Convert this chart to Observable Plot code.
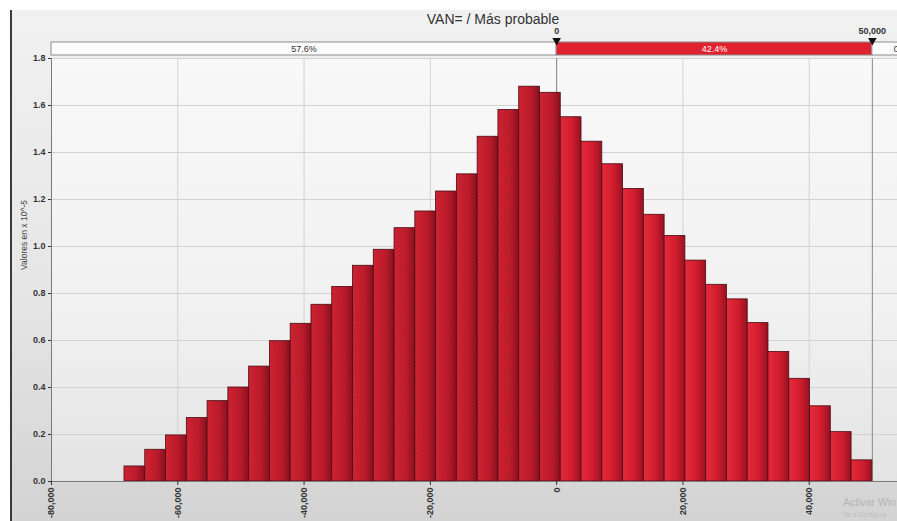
<!DOCTYPE html>
<html>
<head>
<meta charset="utf-8">
<script src="https://cdn.jsdelivr.net/npm/d3@7"></script>
<script src="https://cdn.jsdelivr.net/npm/@observablehq/plot@0.6"></script>
<style>
  html, body { margin: 0; padding: 0; background: #ffffff; overflow: hidden; }
  #wrap { position: relative; width: 897px; height: 521px; overflow: hidden;
          font-family: "Liberation Sans", Arial, sans-serif; }
  #bg { position: absolute; left: 10px; top: 10px; right: 0; bottom: 0;
        background: linear-gradient(#f1f1f1, #e6e6e6 55%, #d3d3d3);
        border-left: 2px solid #3a3a3a; }
  #main, #strip, #title, #wm1, #wm2 { position: absolute; }
  #main { left: 0; top: 0; width: 935px; }
  #strip { left: 0; top: 28px; width: 935px; }
  #main svg, #strip svg { max-width: none; }
  #title { left: 0; top: 11px; width: 986px; text-align: center; font-size: 14px; color: #333; }
  #wm1 { left: 843px; top: 496px; font-size: 10.5px; color: #b4b4b4; font-family: "Liberation Sans", sans-serif; white-space: nowrap; }
  #wm2 { left: 843px; top: 511px; font-size: 6.5px; color: #bdbdbd; font-family: "Liberation Sans", sans-serif; white-space: nowrap; }
</style>
</head>
<body>
<div id="wrap">
  <div id="bg"></div>
  <div id="main"></div>
  <div id="strip"></div>
  <div id="title"></div>
  <div id="wm1"></div>
  <div id="wm2"></div>
</div>
<script>
// ---- data ----
const title = "VAN= / Más probable";
const yLabel = "Valores en x 10^-5";
const xDomain = [-80000, 60000];
const xTicks = [-80000, -60000, -40000, -20000, 0, 20000, 40000];
const yTicks = [0, 0.2, 0.4, 0.6, 0.8, 1.0, 1.2, 1.4, 1.6, 1.8];
const binEdges = [-68440, -65150, -61860, -58570, -55280, -51990, -48700, -45410, -42120,
  -38830, -35540, -32250, -28960, -25670, -22380, -19090, -15800, -12510, -9220, -5930,
  -2640, 650, 3940, 7230, 10520, 13810, 17100, 20390, 23680, 26970, 30260, 33550, 36840,
  40130, 43420, 46710, 50000];
const density = [0.064, 0.135, 0.196, 0.27, 0.342, 0.40, 0.489, 0.597, 0.671, 0.752,
  0.828, 0.918, 0.986, 1.078, 1.149, 1.234, 1.307, 1.467, 1.581, 1.68, 1.654, 1.55,
  1.446, 1.35, 1.245, 1.135, 1.045, 0.94, 0.837, 0.775, 0.674, 0.551, 0.437, 0.32, 0.21, 0.09];
const delimiters = [0, 50000];
const segmentLabels = ["57.6%", "42.4%", "0.0%"];
const watermark = ["Activar Win", "Ve a Configura"];

// ---- derived tables ----
const bins = density.map((v, i) => ({lo: binEdges[i], hi: binEdges[i + 1], v}));
const leftBins = bins.filter(b => b.lo < 0);
const rightBins = bins.filter(b => b.lo >= 0);
const edges = [xDomain[0], ...delimiters, xDomain[1]];
const segs = segmentLabels.map((label, i) => ({
  x1: edges[i], x2: edges[i + 1], label,
  fill: i === 1 ? "#e0212f" : "#fbfbfb",
  tfill: i === 1 ? "#ffffff" : "#333333"
}));
const fmtX = d => d3.format(",")(d).replace("\u2212", "-");
const font = "Liberation Sans, Arial, sans-serif";

const main = Plot.plot({
  width: 935, height: 521,
  marginLeft: 51, marginRight: 0, marginTop: 58, marginBottom: 40,
  style: {background: "transparent", overflow: "visible", fontFamily: font, color: "#333", maxWidth: "none"},
  x: {domain: xDomain},
  y: {domain: [0, 1.8]},
  marks: [
    Plot.frame({fill: "url(#plotBg)", stroke: null}),
    Plot.gridY(yTicks, {stroke: "#d2d2d2", strokeOpacity: 1}),
    Plot.gridX(xTicks, {stroke: "#d2d2d2", strokeOpacity: 1}),
    Plot.ruleX(delimiters, {stroke: "#8a8a8a"}),
    Plot.rectY(leftBins, {x1: "lo", x2: "hi", y: "v", fill: "url(#barL)", stroke: "#4a0c14", strokeWidth: 0.8}),
    Plot.rectY(leftBins, {x1: "lo", x2: "hi", y: "v", fill: "url(#hatch)"}),
    Plot.rectY(rightBins, {x1: "lo", x2: "hi", y: "v", fill: "url(#barR)", stroke: "#4a0c14", strokeWidth: 0.8}),
    Plot.ruleY([0], {stroke: "#7a7a7a"}),
    Plot.ruleX([xDomain[0]], {stroke: "#7a7a7a"}),
    Plot.axisX({ticks: xTicks, tickFormat: fmtX, tickRotate: -90, tickSize: 4, tickPadding: 2,
                fontSize: 9, fontWeight: "bold", label: null}),
    Plot.axisY({ticks: yTicks, tickFormat: d3.format(".1f"), tickSize: 3, tickPadding: 3,
                fontSize: 9, fontWeight: "bold", label: null}),
    Plot.text([yLabel], {frameAnchor: "left", dx: -27, rotate: -90, fontSize: 8.5, fill: "#444"})
  ]
});
d3.select(main).append("defs").html(`
  <linearGradient id="plotBg" x1="0" y1="0" x2="0" y2="1">
    <stop offset="0" stop-color="#f8f8f8"/><stop offset="0.6" stop-color="#f1f1f1"/><stop offset="1" stop-color="#e3e3e3"/>
  </linearGradient>
  <linearGradient id="barR" x1="0" y1="0" x2="1" y2="0">
    <stop offset="0" stop-color="#e42a3a"/><stop offset="0.55" stop-color="#d11d2e"/><stop offset="1" stop-color="#981222"/>
  </linearGradient>
  <linearGradient id="barL" x1="0" y1="0" x2="1" y2="0">
    <stop offset="0" stop-color="#d42434"/><stop offset="0.6" stop-color="#bf1c2c"/><stop offset="1" stop-color="#8c1020"/>
  </linearGradient>
  <pattern id="hatch" patternUnits="userSpaceOnUse" width="3" height="3" patternTransform="rotate(45)">
    <line x1="0" y1="0" x2="0" y2="3" stroke="#4a0510" stroke-opacity="0.28" stroke-width="1"/>
  </pattern>
`);
document.getElementById("main").appendChild(main);

const strip = Plot.plot({
  width: 935, height: 30,
  marginLeft: 51, marginRight: 0, marginTop: 14, marginBottom: 3,
  style: {background: "transparent", overflow: "visible", fontFamily: font, color: "#333", maxWidth: "none"},
  x: {domain: xDomain, axis: null},
  y: {domain: [0, 1], axis: null},
  marks: [
    Plot.barX(segs, {x1: "x1", x2: "x2", fill: "fill", stroke: "#8c8c8c", strokeWidth: 1}),
    Plot.text(segs, {x: d => (d.x1 + d.x2) / 2, y: 0.5, text: "label", fill: "tfill", fontSize: 9}),
    Plot.dot(delimiters, {x: d => d, y: 1, symbol: "triangle", rotate: 180, r: 3.2, fill: "#111", dy: -2}),
    Plot.text(delimiters, {x: d => d, y: 1, text: fmtX, dy: -11, fontSize: 9, fontWeight: "bold", fill: "#333"})
  ]
});
document.getElementById("strip").appendChild(strip);

document.getElementById("title").textContent = title;
document.getElementById("wm1").textContent = watermark[0];
document.getElementById("wm2").textContent = watermark[1];
</script>
</body>
</html>
